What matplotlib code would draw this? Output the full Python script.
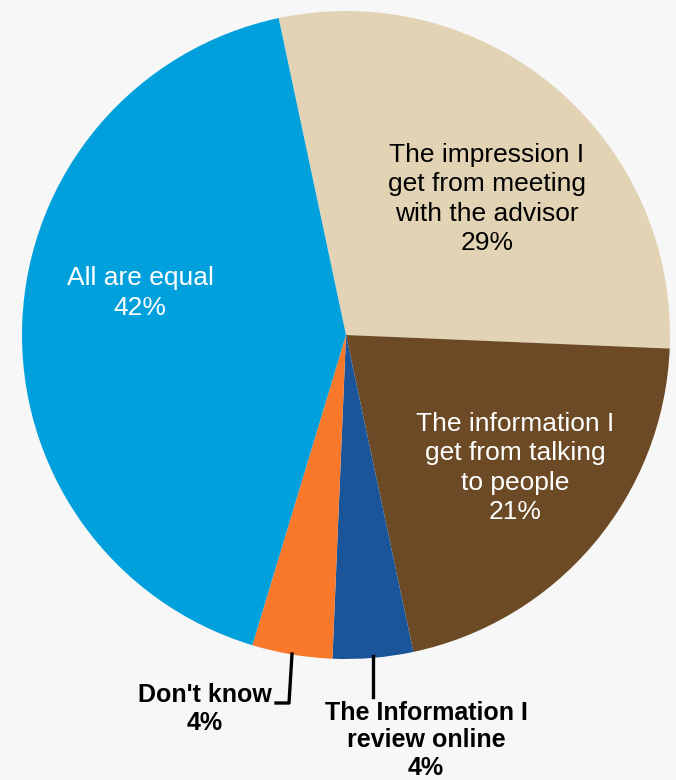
import matplotlib
matplotlib.use('Agg')
import matplotlib.pyplot as plt

plt.rcParams['font.family'] = ['Liberation Sans', 'DejaVu Sans']

# share of respondents by what matters most when choosing an advisor
labels = ['The impression I\nget from meeting\nwith the advisor',
          'The information I\nget from talking\nto people',
          'The Information I\nreview online',
          "Don't know",
          'All are equal']
shares = [29, 21, 4, 4, 42]
colors = ['#e2d3b5', '#6b4a25', '#1a559a', '#f9782a', '#00a0dc']

W, H = 676, 780
fig = plt.figure(figsize=(W / 100, H / 100), dpi=100, facecolor='#f7f7f7')
ax = fig.add_axes([0, 0, 1, 1])

cx, cy, r = 346, H - 335, 324
wedges, _ = ax.pie(shares, colors=colors, startangle=102, counterclock=False,
                   radius=r, center=(cx, cy), frame=True,
                   wedgeprops=dict(linewidth=0))
ax.set_xlim(0, W)
ax.set_ylim(0, H)
ax.axis('off')

fs = 19
# labels inside the big slices
ax.text(487, H - 199, labels[0] + '\n%d%%' % shares[0], ha='center', va='center',
        fontsize=fs, color='black', linespacing=1.28)
ax.text(515, H - 468, labels[1] + '\n%d%%' % shares[1], ha='center', va='center',
        fontsize=fs, color='white', linespacing=1.28)
ax.text(140, H - 293, labels[4] + '\n%d%%' % shares[4], ha='center', va='center',
        fontsize=fs, color='white', linespacing=1.28)

# small slices get labels below the pie with leader lines
fs_out = 18
ax.plot([373, 373], [H - 656, H - 697], color='black', lw=2.4)
ax.text(426, H - 701, labels[2] + '\n%d%%' % shares[2], ha='center', va='top',
        fontsize=fs_out, color='black', fontweight='bold', linespacing=1.18)
ax.plot([292, 289, 276], [H - 654, H - 703, H - 703], color='black', lw=2.4)
ax.text(205, H - 709, labels[3] + '\n%d%%' % shares[3], ha='center', va='center',
        fontsize=fs_out, color='black', fontweight='bold', linespacing=1.25)

fig.savefig('out.png', dpi=100, facecolor=fig.get_facecolor())
